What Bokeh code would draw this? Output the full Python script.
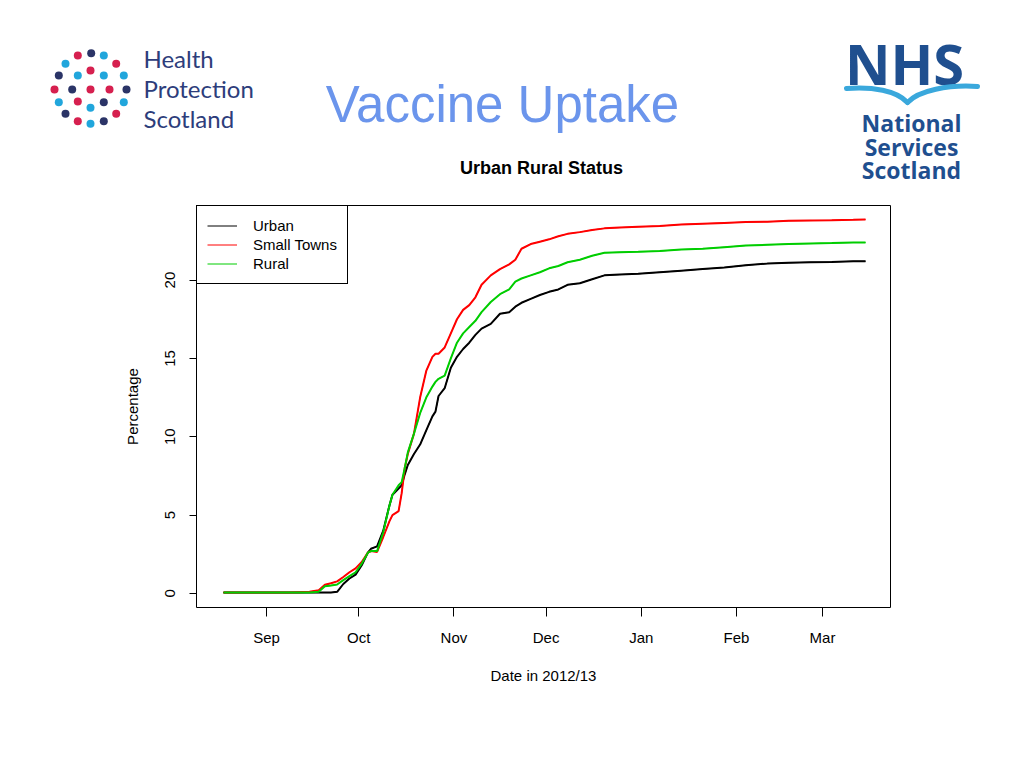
import pandas as pd
from bokeh.plotting import figure
from bokeh.models import (Range1d, FixedTicker, DatetimeTickFormatter, Legend,
                          LegendItem)
from bokeh.core.properties import value
from bokeh.embed import file_html
from bokeh.resources import INLINE

# ---------------- data ----------------
dates = [
    "2012-08-18", "2012-08-25", "2012-09-01", "2012-09-08", "2012-09-12", "2012-09-15",
    "2012-09-18", "2012-09-20", "2012-09-22", "2012-09-24", "2012-09-26", "2012-09-28",
    "2012-09-30",
    "2012-10-02", "2012-10-04", "2012-10-05", "2012-10-07", "2012-10-09", "2012-10-11",
    "2012-10-12", "2012-10-14", "2012-10-15", "2012-10-16", "2012-10-17", "2012-10-19",
    "2012-10-21", "2012-10-23", "2012-10-25", "2012-10-26", "2012-10-27", "2012-10-29",
    "2012-10-31",
    "2012-11-02", "2012-11-04", "2012-11-06", "2012-11-08", "2012-11-10", "2012-11-13",
    "2012-11-16", "2012-11-19", "2012-11-21", "2012-11-23", "2012-11-26", "2012-11-29",
    "2012-12-02", "2012-12-05", "2012-12-08", "2012-12-12", "2012-12-16", "2012-12-20",
    "2012-12-25", "2012-12-31",
    "2013-01-07", "2013-01-14", "2013-01-21", "2013-01-28",
    "2013-02-04", "2013-02-11", "2013-02-18", "2013-02-25",
    "2013-03-04", "2013-03-11", "2013-03-15",
]

urban = [
    0.05, 0.05, 0.05, 0.05, 0.05, 0.05, 0.05, 0.05, 0.05, 0.10, 0.60, 0.95, 1.20,
    1.80, 2.60, 2.85, 3.00, 4.00, 5.60, 6.30, 6.70, 6.90, 7.60, 8.20, 8.90, 9.50,
    10.40, 11.30, 11.60, 12.60, 13.10, 14.40,
    15.10, 15.60, 16.00, 16.50, 16.90, 17.20, 17.85, 17.95, 18.30, 18.55, 18.80, 19.05,
    19.25, 19.40, 19.70, 19.80, 20.05, 20.30, 20.35, 20.40,
    20.50, 20.60, 20.70, 20.80,
    20.95, 21.05, 21.10, 21.14,
    21.16, 21.20, 21.20,
]

small_towns = [
    0.05, 0.05, 0.05, 0.05, 0.08, 0.10, 0.20, 0.55, 0.65, 0.77, 1.05, 1.35, 1.60,
    2.00, 2.60, 2.70, 2.65, 3.60, 4.60, 5.00, 5.25, 6.40, 8.00, 8.90, 10.20, 12.50,
    14.20, 15.10, 15.30, 15.30, 15.70, 16.60,
    17.50, 18.10, 18.40, 18.90, 19.70, 20.30, 20.70, 21.00, 21.30, 22.00, 22.30, 22.45,
    22.60, 22.80, 22.95, 23.06, 23.20, 23.30, 23.35, 23.40,
    23.45, 23.55, 23.60, 23.65,
    23.70, 23.72, 23.78, 23.80,
    23.82, 23.85, 23.87,
]

rural = [
    0.05, 0.05, 0.05, 0.05, 0.05, 0.06, 0.10, 0.45, 0.50, 0.57, 0.85, 1.10, 1.35,
    1.90, 2.60, 2.70, 2.70, 3.90, 5.60, 6.30, 6.90, 7.10, 8.00, 9.00, 10.20, 11.50,
    12.50, 13.20, 13.50, 13.70, 13.90, 15.00,
    16.00, 16.60, 17.00, 17.40, 17.95, 18.60, 19.10, 19.40, 19.90, 20.10, 20.30, 20.50,
    20.75, 20.90, 21.14, 21.30, 21.55, 21.74, 21.78, 21.80,
    21.85, 21.95, 22.00, 22.10,
    22.20, 22.25, 22.30, 22.33,
    22.36, 22.40, 22.40,
]

series_names = ["Urban", "Small Towns", "Rural"]
series_colors = ["#000000", "#FF0000", "#00CD00"]

month_ticks = ["2012-09-01", "2012-10-01", "2012-11-01", "2012-12-01",
               "2013-01-01", "2013-02-01", "2013-03-01"]
y_ticks = [0, 5, 10, 15, 20]

x_start = "2012-08-09 05:00"
x_end = "2013-03-23 03:00"

# ---------------- page decoration (logos, titles) ----------------
W = 1016
H_HEAD = 190
H_MAIN = 570

FONT = "Liberation Sans"

head = figure(width=W, height=H_HEAD, x_range=Range1d(0, W),
              y_range=Range1d(H_HEAD, 0), output_backend="svg",
              toolbar_location=None, x_axis_location=None, y_axis_location=None,
              min_border=0)
head.grid.visible = False
head.outline_line_color = None

NAVY = "#2b3467"
CRIMSON = "#d6204f"
LBLUE = "#21a6dc"
logo_dot_x = [77.3, 90.7, 103.3, 65, 115.7, 90, 58.3, 77.3, 103.3, 123.3,
              54, 71.7, 90, 109, 126, 58.3, 77.3, 103.3, 123.3, 90,
              65, 115.7, 77.3, 90, 103.3]
logo_dot_y = [55, 52.7, 55, 63.3, 63.3, 70, 75, 75, 75, 75,
              89, 89, 89, 89, 89, 101.7, 101, 101.7, 101.7, 107.3,
              113.3, 113.3, 120.7, 123.3, 120.7]
logo_dot_c = [CRIMSON, NAVY, LBLUE, LBLUE, CRIMSON, CRIMSON, NAVY, LBLUE, LBLUE, LBLUE,
              CRIMSON, NAVY, CRIMSON, CRIMSON, NAVY, LBLUE, CRIMSON, NAVY, LBLUE, LBLUE,
              NAVY, CRIMSON, CRIMSON, LBLUE, NAVY]
head.scatter(logo_dot_x, logo_dot_y, size=8, fill_color=logo_dot_c, line_color=None)

head.text(x=[143, 143, 143], y=[58, 88, 118], text=["Health", "Protection", "Scotland"],
          text_font=value("Lato"), text_font_size="24px", text_color="#2d3d7b",
          text_align="left", text_baseline="alphabetic")

NHSBLUE = "#1f4f8f"
head.text(x=[904], y=[62], text=["NHS"], text_font=value("Open Sans"),
          text_font_style="bold", text_font_size="56px", text_color=NHSBLUE,
          text_align="center", text_baseline="alphabetic")
head.bezier(x0=[846, 977], y0=[88, 86], x1=[907, 907], y1=[102, 102],
            cx0=[872, 948], cy0=[86, 84], cx1=[896, 918], cy1=[90, 90],
            line_color="#3aa8dc", line_width=5, line_cap="round")
head.text(x=[911, 911, 911], y=[122, 146, 169], text=["National", "Services", "Scotland"],
          text_font=value("Open Sans"), text_font_style="bold", text_font_size="23px",
          text_color=NHSBLUE, text_align="center", text_baseline="alphabetic")

head.text(x=[502], y=[104], text=["Vaccine Uptake"], text_font=value(FONT),
          text_font_size="51px", text_color="#6b95ec", text_align="center",
          text_baseline="alphabetic")
head.text(x=[541], y=[167], text=["Urban Rural Status"], text_font=value(FONT),
          text_font_style="bold", text_font_size="18px", text_color="#000000",
          text_align="center", text_baseline="alphabetic")

# ---------------- main chart ----------------
p = figure(width=W, height=H_MAIN, x_axis_type="datetime",
           x_range=Range1d(pd.Timestamp(x_start), pd.Timestamp(x_end)),
           y_range=Range1d(-0.9, 24.76), output_backend="svg", toolbar_location=None,
           min_border_left=196, min_border_right=W - 890, min_border_top=205 - H_HEAD,
           min_border_bottom=H_HEAD + H_MAIN - 607)
p.grid.visible = False
p.outline_line_color = "#000000"
p.outline_line_width = 1
p.outline_line_alpha = 1

xd = pd.to_datetime(dates)
values = [urban, small_towns, rural]

# thin copies (hidden under the thick lines) used only for the legend samples
items = []
for name, vals, col in zip(series_names, values, series_colors):
    r = p.line(xd, vals, line_color=col, line_width=1)
    items.append(LegendItem(label=name, renderers=[r]))
for vals, col in zip(values, series_colors):
    p.line(xd, vals, line_color=col, line_width=2)

leg = Legend(items=items, location="top_left", margin=0, padding=10, spacing=0,
             label_height=19, glyph_height=19, glyph_width=30, label_standoff=16,
             border_line_color="#000000", border_line_width=1, border_line_alpha=1,
             label_text_font=FONT, label_text_font_size="15px",
             label_text_color="#000000",
             background_fill_color="white", background_fill_alpha=1)
p.add_layout(leg)

xa = p.xaxis[0]
xa.ticker = FixedTicker(ticks=[pd.Timestamp(d).value / 1e6 for d in month_ticks])
xa.formatter = DatetimeTickFormatter(days="%b", months="%b", years="%b", hours="%b")
xa.major_tick_out = 9
xa.major_tick_in = 0
xa.minor_tick_out = 0
xa.minor_tick_in = 0
xa.axis_line_color = None
xa.major_tick_line_color = "#000000"
xa.major_label_standoff = 12
xa.major_label_text_font = FONT
xa.major_label_text_font_size = "15px"
xa.major_label_text_color = "#000000"
xa.axis_label = "Date in 2012/13"
xa.axis_label_standoff = 18
xa.axis_label_text_font = FONT
xa.axis_label_text_font_style = "normal"
xa.axis_label_text_font_size = "15px"
xa.axis_label_text_color = "#000000"

ya = p.yaxis[0]
ya.ticker = FixedTicker(ticks=y_ticks)
ya.major_label_orientation = "vertical"
ya.major_tick_out = 7
ya.major_tick_in = 0
ya.minor_tick_out = 0
ya.minor_tick_in = 0
ya.axis_line_color = None
ya.major_tick_line_color = "#000000"
ya.major_label_standoff = 14
ya.major_label_text_font = FONT
ya.major_label_text_font_size = "15px"
ya.major_label_text_color = "#000000"
ya.axis_label = "Percentage"
ya.axis_label_standoff = 22
ya.axis_label_text_font = FONT
ya.axis_label_text_font_style = "normal"
ya.axis_label_text_font_size = "15px"
ya.axis_label_text_color = "#000000"

open("out.html", "w").write(file_html([head, p], INLINE))
